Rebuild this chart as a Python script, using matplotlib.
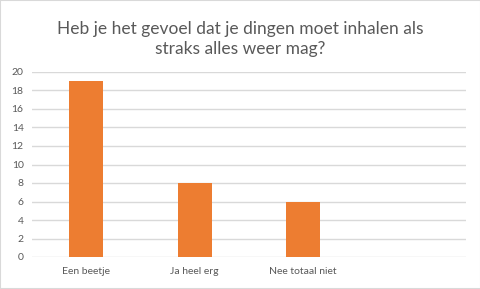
import matplotlib
matplotlib.use("Agg")
import matplotlib.pyplot as plt
from matplotlib.patches import Rectangle

categories = ["Een beetje", "Ja heel erg", "Nee totaal niet"]
values = [19, 8, 6]
yticks = [0, 2, 4, 6, 8, 10, 12, 14, 16, 18, 20]
title = "Heb je het gevoel dat je dingen moet inhalen als\nstraks alles weer mag?"

plt.rcParams['font.family'] = ['Lato', 'DejaVu Sans']
grey = "#595959"

fig = plt.figure(figsize=(4.81, 2.89), dpi=100)
fig.patches.append(Rectangle((0, 0), 1, 1, transform=fig.transFigure,
                             fill=False, edgecolor="#d9d9d9", linewidth=1.5))
ax = fig.add_axes([32/481, 1-257/289, (466-32)/481, (257-72)/289])
x = list(range(len(categories)))
ax.bar(x, values, width=0.31, color="#ED7D31", zorder=3)
ax.set_xlim(-0.5, 3.5)
ax.set_ylim(0, 20)
ax.set_yticks(yticks)
ax.set_xticks(x)
ax.set_xticklabels(categories)
ax.grid(axis="y", color="#d9d9d9", linewidth=1, zorder=0)
for s in ax.spines.values():
    s.set_visible(False)
ax.tick_params(length=0, labelsize=7.5, colors=grey, pad=6)
ax.tick_params(axis="x", pad=7)
fig.text(0.5, 1-39/289, title, ha="center", va="center", fontsize=12.5,
         color=grey, linespacing=1.35)
fig.savefig("out.png", dpi=100)
